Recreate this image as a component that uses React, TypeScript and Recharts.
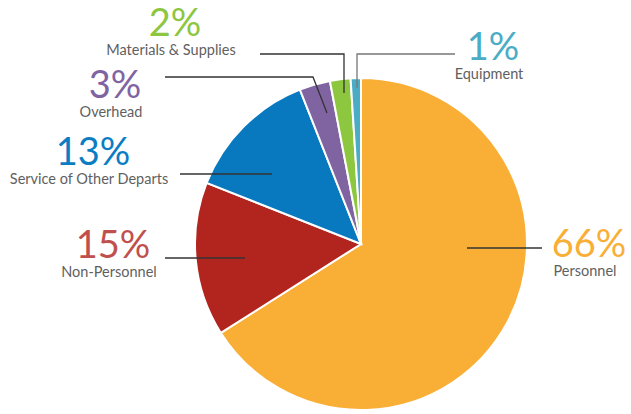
import { PieChart, Pie, Cell } from 'recharts';

const categories = ['Personnel', 'Non-Personnel', 'Service of Other Departs', 'Overhead', 'Materials & Supplies', 'Equipment'];
const shares = [66, 15, 13, 3, 2, 1];

const SLICE_COLORS = ['#F9AE36', '#B2241E', '#0879BF', '#8064A2', '#8DC63F', '#4BACC6'];
const TEXT_COLORS = ['#F9AE36', '#C0504D', '#0B7DC3', '#8064A2', '#8DC63F', '#4BACC6'];

// leader line points and label anchors, relative to the pie centre
const LABEL_LAYOUT = [
  { pts: [[106, 4], [181, 4]], tx: 228, ty: 13, line: '#333' },
  { pts: [[-116, 14], [-196, 14]], tx: -248, ty: 14, line: '#333' },
  { pts: [[-89, -70], [-181, -70]], tx: -268, ty: -79, line: '#333' },
  { pts: [[-34, -131], [-48, -167], [-196, -167]], tx: -246, ty: -146, line: '#333' },
  { pts: [[-17, -151], [-17, -190], [-101, -190]], tx: -186, ty: -208, line: '#333' },
  { pts: [[-4, -156], [-4, -190], [94, -190]], tx: 132, ty: -184, line: '#777' },
];

const data = categories.map((name, i) => ({ name, value: shares[i] }));

const FONT = 'Lato, "Open Sans", sans-serif';

function renderLabel(props: any) {
  const { cx, cy, index } = props;
  const l = LABEL_LAYOUT[index];
  const points = l.pts.map(([x, y]) => `${cx + x},${cy + y}`).join(' ');
  return (
    <g key={`lbl-${index}`}>
      <polyline points={points} fill="none" stroke={l.line} strokeWidth={1.3} />
      <text
        x={cx + l.tx}
        y={cy + l.ty}
        textAnchor="middle"
        fill={TEXT_COLORS[index]}
        fontSize={38}
        fontFamily={FONT}
      >
        {shares[index]}%
      </text>
      <text
        x={cx + l.tx - 4}
        y={cy + l.ty + 19}
        textAnchor="middle"
        fill="#5f5f5f"
        fontSize={14.5}
        fontFamily={FONT}
      >
        {categories[index]}
      </text>
    </g>
  );
}

export default function App() {
  return (
    <div style={{ position: 'absolute', left: 0, top: 0, width: 631, height: 414, background: '#fff' }}>
      <PieChart width={631} height={414} margin={{ top: 0, right: 0, bottom: 0, left: 0 }}>
        <Pie
          data={data}
          dataKey="value"
          nameKey="name"
          cx={361}
          cy={244}
          outerRadius={166}
          startAngle={90}
          endAngle={-270}
          stroke="#fff"
          strokeWidth={2}
          label={renderLabel}
          labelLine={false}
          isAnimationActive={false}
        >
          {data.map((entry, index) => (
            <Cell key={`cell-${index}`} fill={SLICE_COLORS[index]} />
          ))}
        </Pie>
      </PieChart>
    </div>
  );
}
